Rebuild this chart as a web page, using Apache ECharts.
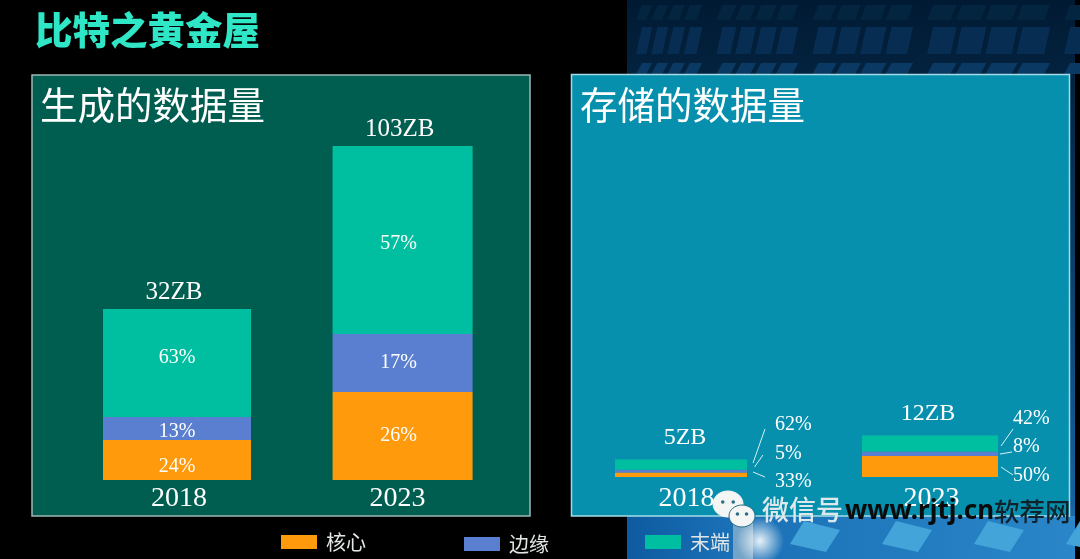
<!DOCTYPE html>
<html><head><meta charset="utf-8">
<style>html,body{margin:0;padding:0;background:#000}#c{width:1080px;height:559px}</style>
<script src="https://cdn.jsdelivr.net/npm/echarts@6/dist/echarts.min.js"></script>
</head><body><div id="c"></div>
<script>
const years = ['2018', '2023'];
const seriesNames = ['核心', '边缘', '末端'];
// segment heights (drawn bars are not proportional to ZB)
const genCore = [40, 88];
const genEdge = [23, 58];
const genEnd = [108, 188];
const genTotals = ['32ZB', '103ZB'];
const genPct = { core: ['24%', '26%'], edge: ['13%', '17%'], end: ['63%', '57%'] };
const stoCore = [4.6, 21];
const stoEdge = [2.7, 4.6];
const stoEnd = [10.3, 16];
const stoTotals = ['5ZB', '12ZB'];
const stoPct = { core: ['33%', '50%'], edge: ['5%', '8%'], end: ['62%', '42%'] };

const ORANGE = '#FF9A0C', BLUE = '#5B7FD0', GREEN = '#00BFA0';
const SERIF = '"Liberation Serif",serif';
const CJK = '"Noto Sans CJK SC",sans-serif';

function only(arr, i) { return arr.map((v, k) => k === i ? v : null); }

function leftSeries(yi, width, dx, dys) {
  const s = years[yi];
  const mk = (name, arr, pct, color, dy) => ({
    type: 'bar', name, xAxisIndex: 0, yAxisIndex: 0, stack: 'g' + s, barWidth: width, barGap: '-100%',
    data: only(arr, yi), itemStyle: { color },
    label: { show: true, position: 'inside', offset: [dx, dy], color: '#fff', fontFamily: SERIF, fontSize: 20, formatter: () => pct[yi] }
  });
  return [mk('核心', genCore, genPct.core, ORANGE, dys[0]), mk('边缘', genEdge, genPct.edge, BLUE, dys[1]), mk('末端', genEnd, genPct.end, GREEN, dys[2])];
}
function rightSeries(yi, width, dx, dys) {
  const s = years[yi];
  const mk = (name, arr, pct, color, dy) => ({
    type: 'bar', name, xAxisIndex: 1, yAxisIndex: 1, stack: 's' + s, barWidth: width, barGap: '-100%',
    data: only(arr, yi), itemStyle: { color },
    label: { show: true, position: 'right', offset: [dx, dy], color: '#fff', fontFamily: SERIF, fontSize: 20, formatter: () => pct[yi] }
  });
  return [mk('核心', stoCore, stoPct.core, ORANGE, dys[0]), mk('边缘', stoEdge, stoPct.edge, BLUE, dys[1]), mk('末端', stoEnd, stoPct.end, GREEN, dys[2])];
}
function totalSeries(axis, vals, labels, size, dist, dxs) {
  return {
    type: 'scatter', xAxisIndex: axis, yAxisIndex: axis, symbolSize: 0, silent: true,
    data: vals.map((v, i) => ({ value: v, label: { offset: [dxs[i], 0] } })), z: 5, itemStyle: { opacity: 1 },
    label: { show: true, position: 'top', distance: dist, color: '#fff', opacity: 1, fontFamily: SERIF, fontSize: size,
      formatter: p => labels[p.dataIndex] }
  };
}
const genSum = years.map((_, i) => genCore[i] + genEdge[i] + genEnd[i]);
const stoSum = years.map((_, i) => stoCore[i] + stoEdge[i] + stoEnd[i]);

// decorative background
const g = [];
g.push({ type: 'rect', z: -20, shape: { x: 627, y: 0, width: 448, height: 559 },
  style: { fill: new echarts.graphic.LinearGradient(0, 0, 0, 1, [
    { offset: 0, color: '#011a33' }, { offset: 0.14, color: '#03233f' }, { offset: 0.9, color: '#15629f' }, { offset: 1, color: '#2c86c4' }]) } });
function tile(x, y, w, h, fill) {
  g.push({ type: 'polygon', z: -19, shape: { points: [[x + 6, y], [x + w + 6, y], [x + w, y + h], [x, y + h]] }, style: { fill } });
}
[[5, 15, '#03253f'], [27, 27, '#072e52'], [63, 11, '#0a3a63']].forEach(r => {
  let x = 636, k = 0;
  while (x < 1070) {
    const w = 10 + (x - 630) / 22;
    tile(x, r[0], w, r[1], r[2]);
    x += w + ((k % 4 === 3) ? 20 : 5);
    k++;
  }
});
// bright lower strip
g.push({ type: 'rect', z: -18, shape: { x: 627, y: 516, width: 448, height: 43 },
  style: { fill: new echarts.graphic.LinearGradient(0, 0, 1, 0, [{ offset: 0, color: '#0d5aa0' }, { offset: 0.22, color: '#1a70b6' }, { offset: 1, color: '#2a86c8' }]) } });
for (let x = 790; x < 1070; x += 92) {
  g.push({ type: 'polygon', z: -17, shape: { points: [[x + 14, 521], [x + 50, 530], [x + 36, 552], [x, 544]] }, style: { fill: '#43a4da' } });
}
g.push({ type: 'rect', z: -16, shape: { x: 733, y: 516, width: 20, height: 43 }, style: { fill: 'rgba(190,205,215,0.55)' } });
g.push({ type: 'circle', z: -15, shape: { cx: 760, cy: 541, r: 24 },
  style: { fill: new echarts.graphic.RadialGradient(0.5, 0.5, 0.5, [{ offset: 0, color: 'rgba(255,255,255,0.9)' }, { offset: 1, color: 'rgba(255,255,255,0)' }]) } });

// panels
g.push({ type: 'rect', z: -10, shape: { x: 32, y: 75, width: 498, height: 441 }, style: { fill: '#005E50', stroke: '#9fb8b2', lineWidth: 1.5 } });
g.push({ type: 'rect', z: -10, shape: { x: 571.5, y: 74.5, width: 498, height: 441.5 }, style: { fill: '#0790AE', stroke: '#a5dbe6', lineWidth: 1.5 } });

// leader lines
[[[765, 429], [753, 463]], [[763, 455], [754.5, 467]], [[753, 472], [765, 477]],
 [[1013, 429], [1001, 446]], [[1012, 452], [1000, 454]], [[1001, 467], [1013, 475]]].forEach(p => {
  g.push({ type: 'line', z: 6, shape: { x1: p[0][0], y1: p[0][1], x2: p[1][0], y2: p[1][1] }, style: { stroke: '#d5f0f2', lineWidth: 1 } });
});

// watermark
function bubble(cx, cy, rx, ry, stroke) {
  g.push({ type: 'ellipse', z: 20, shape: { cx, cy, rx, ry }, style: { fill: '#f4f6f6', stroke, lineWidth: 1 } });
  g.push({ type: 'circle', z: 21, shape: { cx: cx - rx * 0.35, cy: cy - 2, r: 1.8 }, style: { fill: '#2a6e86' } });
  g.push({ type: 'circle', z: 21, shape: { cx: cx + rx * 0.35, cy: cy - 2, r: 1.8 }, style: { fill: '#2a6e86' } });
}
bubble(728, 504, 15, 13, '#f4f6f6');
bubble(742, 516, 13, 11, '#2a6e86');
g.push({ type: 'text', z: 20, style: { x: 762, y: 510, text: '微信号', fill: '#dde8ec', font: '500 27px ' + CJK, textVerticalAlign: 'middle' } });
g.push({ type: 'text', z: 20, style: { x: 845, y: 512, text: 'www.rjtj.cn', fill: '#0a0a0a', font: '700 26px "Noto Sans",sans-serif', textVerticalAlign: 'middle' } });
g.push({ type: 'text', z: 20, style: { x: 994, y: 511, text: '软荐网', fill: '#10222c', font: '500 25.5px ' + CJK, textVerticalAlign: 'middle' } });

const legendBase = { orient: 'horizontal', itemWidth: 36, itemHeight: 14, icon: 'rect', selectedMode: false,
  textStyle: { color: '#e3e6e6', fontFamily: CJK, fontSize: 20, padding: [0, 0, 0, 4] } };

const option = {
  animation: false,
  backgroundColor: '#000',
  textStyle: { fontFamily: SERIF },
  graphic: g,
  title: [
    { text: '比特之黄金屋', left: 30, top: 6, textStyle: { color: '#2FE6C6', fontFamily: CJK, fontWeight: 900, fontSize: 37.5 } },
    { text: '生成的数据量', left: 35, top: 81, textStyle: { color: '#fff', fontFamily: CJK, fontWeight: 400, fontSize: 37.5 } },
    { text: '存储的数据量', left: 575, top: 81, textStyle: { color: '#fff', fontFamily: CJK, fontWeight: 400, fontSize: 37.5 } }
  ],
  legend: [
    Object.assign({}, legendBase, { data: ['核心'], left: 276, top: 527 }),
    Object.assign({}, legendBase, { data: ['边缘'], left: 459, top: 529 }),
    Object.assign({}, legendBase, { data: ['末端'], left: 640, top: 527 })
  ],
  grid: [
    { left: 58.2, width: 459.2, top: 146, height: 334 },
    { left: 559.5, width: 494, top: 435, height: 42 }
  ],
  xAxis: [
    { type: 'category', gridIndex: 0, data: years, axisLine: { show: false }, axisTick: { show: false },
      axisLabel: { color: '#fff', fontFamily: SERIF, fontSize: 28, margin: 5, interval: 0,
        formatter: v => v === '2018' ? '{a|' + v + '}' : '{b|' + v + '}',
        rich: { a: { color: '#fff', fontFamily: SERIF, fontSize: 28, padding: [0, 0, 0, 12] }, b: { color: '#fff', fontFamily: SERIF, fontSize: 28, padding: [0, 10, 0, 0] } } } },
    { type: 'category', gridIndex: 1, data: years, axisLine: { show: false }, axisTick: { show: false },
      axisLabel: { color: '#fff', fontFamily: SERIF, fontSize: 28, margin: 8, interval: 0,
        formatter: v => v === '2018' ? '{a|' + v + '}' : '{b|' + v + '}',
        rich: { a: { color: '#fff', fontFamily: SERIF, fontSize: 28, padding: [0, 0, 0, 7] }, b: { color: '#fff', fontFamily: SERIF, fontSize: 28, padding: [0, 0, 0, 3] } } } }
  ],
  yAxis: [
    { type: 'value', gridIndex: 0, min: 0, max: 334, show: false },
    { type: 'value', gridIndex: 1, min: 0, max: 42, show: false }
  ],
  series: [
    ...leftSeries(0, 148, 0, [7, 3, -5]), ...leftSeries(1, 140, -4, [0, 0, 4]),
    ...rightSeries(0, 132, 23, [7, -17.5, -40]), ...rightSeries(1, 136, 10, [9, -7, -25]),
    totalSeries(0, genSum, genTotals, 25, 4, [1, -3]),
    totalSeries(1, stoSum, stoTotals, 24, 10, [2, -2])
  ]
};
const chart = echarts.init(document.getElementById('c'), null, { renderer: 'canvas' });
chart.setOption(option);
</script></body></html>
